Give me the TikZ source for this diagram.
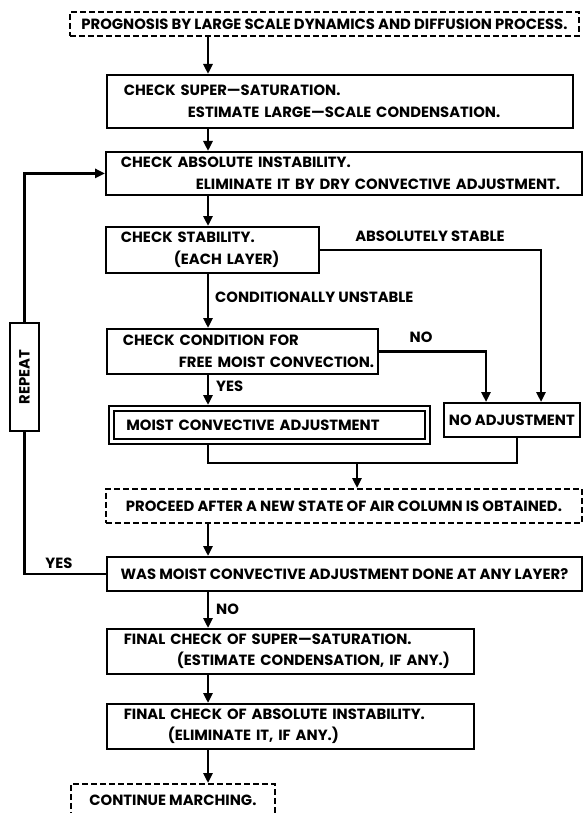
\documentclass[tikz,border=0pt]{standalone}
\usepackage{fontspec}
\setmainfont{Poppins}
\usetikzlibrary{arrows.meta}

\newcommand{\lineat}[2]{\hspace*{#1pt}\mbox{#2}}

\begin{document}
\begin{tikzpicture}[x=1pt,y=-1pt,
  font=\bfseries\fontsize{14.8}{21.5}\selectfont,
  box/.style={draw,line width=1.8pt,anchor=north west,inner sep=0pt,align=left},
  dbox/.style={box,dash pattern=on 6pt off 3pt,align=center},
  flow/.style={line width=2.6pt,-{Triangle[length=10pt,width=9pt]}},
  link/.style={line width=2.6pt},
  lbl/.style={inner sep=0pt}]
  \useasboundingbox (0,0) rectangle (583,813);
  \coordinate (spine) at (208,0);
  \coordinate (rcol) at (541,0);
  \coordinate (ncol) at (486,0);
  \coordinate (jcol) at (517,0);
  \coordinate (join) at (357,463);

  % main column
  \node[dbox,minimum width=509pt,minimum height=24pt] (prog) at (69,11) {PROGNOSIS BY LARGE SCALE DYNAMICS AND DIFFUSION PROCESS.};
  \node[box,text width=466pt,minimum height=53pt] (sat) at (106,74) {\lineat{17}{CHECK SUPER—SATURATION.}\\\lineat{81}{ESTIMATE LARGE—SCALE CONDENSATION.}};
  \node[box,text width=476pt,minimum height=43pt] (chk) at (105,151) {\lineat{15}{CHECK ABSOLUTE INSTABILITY.}\\\lineat{90}{ELIMINATE IT BY DRY CONVECTIVE ADJUSTMENT.}};
  \node[box,text width=213pt,minimum height=46pt] (stab) at (105,226) {\lineat{15}{CHECK STABILITY.}\\\lineat{68}{(EACH LAYER)}};
  \node[box,text width=271pt,minimum height=45pt] (cond) at (106,328) {\lineat{16}{CHECK CONDITION FOR}\\\lineat{72}{FREE MOIST CONVECTION.}};
  \node[box,double,double distance=3pt,outer sep=3.3pt,text width=316pt,minimum height=33pt] (moist) at (108,405) {\lineat{15}{MOIST CONVECTIVE ADJUSTMENT}};
  \node[box,align=center,minimum width=136pt,minimum height=34pt] (noadj) at (443,402) {NO ADJUSTMENT};
  \node[dbox,minimum width=476pt,minimum height=34pt] (proc) at (105,488) {PROCEED AFTER A NEW STATE OF AIR COLUMN IS OBTAINED.};
  \node[box,align=center,minimum width=475pt,minimum height=34pt] (was) at (106,556) {WAS MOIST CONVECTIVE ADJUSTMENT DONE AT ANY LAYER?};
  \node[box,text width=367pt,minimum height=45pt] (fin1) at (106,628) {\lineat{17}{FINAL CHECK OF SUPER—SATURATION.}\\\lineat{70}{(ESTIMATE CONDENSATION, IF ANY.)}};
  \node[box,text width=367pt,minimum height=45pt] (fin2) at (106,703) {\lineat{17}{FINAL CHECK OF ABSOLUTE INSTABILITY.}\\\lineat{61}{(ELIMINATE IT, IF ANY.)}};
  \node[dbox,minimum width=204pt,minimum height=32pt] (cont) at (70,783) {CONTINUE MARCHING.};
  \node[draw,line width=1.8pt,rotate=90,minimum width=108pt,minimum height=29pt,inner sep=0pt] (rep) at (24.5,377) {REPEAT};

  % labels
  \node[lbl] (absl) at (430,236) {ABSOLUTELY STABLE};
  \node[lbl,anchor=west] (condl) at (215,297) {CONDITIONALLY UNSTABLE};
  \node[lbl] (nol) at (421,337) {NO};
  \node[lbl,anchor=west] (yesl) at (216,386) {YES};
  \node[lbl] (yesrep) at (59,563) {YES};
  \node[lbl,anchor=west] (nofin) at (216,609) {NO};

  % arrows
  \draw[flow] (prog.south -| spine) -- (sat.north -| spine);
  \draw[flow] (sat.south -| spine) -- (chk.north -| spine);
  \draw[flow] (chk.south -| spine) -- (stab.north -| spine);
  \draw[flow] (stab.south -| spine) -- (cond.north -| spine);
  \draw[flow] (cond.south -| spine) -- (moist.north -| spine);
  \draw[flow] (stab.east) -| (noadj.north -| rcol);
  \draw[flow] (cond.east) -| (noadj.north -| ncol);
  \draw[link] (moist.south -| spine) |- (join) -| (noadj.south -| jcol);
  \draw[flow] (join) -- (proc.north -| join);
  \draw[flow] (proc.south -| spine) -- (was.north -| spine);
  \draw[link] (was.west) -| (rep.west);
  \draw[flow] (rep.east) |- (chk.west);
  \draw[flow] (was.south -| spine) -- (fin1.north -| spine);
  \draw[flow] (fin1.south -| spine) -- (fin2.north -| spine);
  \draw[flow] (fin2.south -| spine) -- (cont.north -| spine);
\end{tikzpicture}
\end{document}
